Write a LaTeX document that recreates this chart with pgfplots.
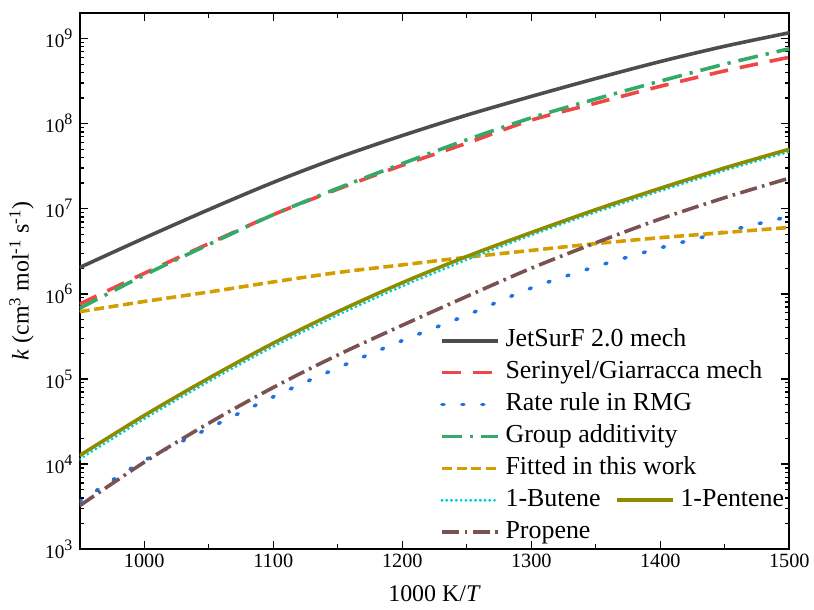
\documentclass[border=0pt]{standalone}
\usepackage{fontspec}
\setmainfont{Liberation Serif}
\usepackage{pgfplots}
\pgfplotsset{compat=1.18}

\definecolor{cjet}{RGB}{77,77,77}
\definecolor{cser}{RGB}{240,70,70}
\definecolor{crmg}{RGB}{30,112,228}
\definecolor{cgrp}{RGB}{52,170,105}
\definecolor{cfit}{RGB}{212,158,0}
\definecolor{cbut}{RGB}{0,205,215}
\definecolor{cpen}{RGB}{140,140,0}
\definecolor{cpro}{RGB}{122,82,82}

\begin{document}
\begin{tikzpicture}
\begin{axis}[
    scale only axis,
    width=534pt, height=403.5pt,
    ymode=log,
    xmin=950, xmax=1500,
    ymin=1e3, ymax=2e9,
    xtick={1000,1100,1200,1300,1400,1500},
    minor x tick num=1,
    ytick={1e3,1e4,1e5,1e6,1e7,1e8,1e9},
    yticklabel={10\raisebox{0.42em}{\fontsize{12}{13}\selectfont\pgfmathparse{int(round(\tick/ln(10)))}\pgfmathresult}},
    /pgf/number format/1000 sep={},
    /pgf/number format/assume math mode=true,
    tick align=inside,
    major tick length=6pt, minor tick length=3.5pt,
    tick style={line width=1pt, black},
    axis line style={line width=1.3pt},
    tick label style={font=\fontsize{15.25}{18}\selectfont},
    yticklabel style={font=\fontsize{14.5}{17}\selectfont, xshift=-2pt},
    label style={font=\fontsize{18}{21}\selectfont},
    xlabel={1000 K/\textit{T}},
    ylabel={\textit{k} (cm\textsuperscript{3} mol\textsuperscript{-1} s\textsuperscript{-1})},
    xlabel style={at={(axis description cs:0.5,-0.084)}, anchor=center},
    ylabel style={at={(axis description cs:-0.082,0.5)}, anchor=center},
    every axis plot/.append style={line width=2.7pt, smooth},
    legend columns=2,
    legend style={
        at={(0.502,0.42)}, anchor=north west,
        draw=none, fill=none,
        font=\fontsize{19.5}{22}\selectfont,
        nodes={inner sep=2pt, text height=13pt, text depth=4pt},
        row sep=3pt,
        /tikz/every odd column/.append style={column sep=2.5pt},
        /tikz/every even column/.append style={column sep=9pt},
    },
    legend cell align=left,
    legend image code/.code={\draw[mark repeat=2,mark phase=2] plot coordinates {(0pt,0pt) (21pt,0pt) (42pt,0pt)};},
]

\addplot[cjet] coordinates {
(950,2.04e6)(1000,4.52e6)(1050,9.77e6)(1100,2.04e7)(1150,3.98e7)(1200,7.24e7)
(1250,1.26e8)(1300,2.09e8)(1350,3.39e8)(1400,5.37e8)(1450,8.13e8)(1500,1.17e9)};
\addlegendentry{\makebox[0pt][l]{JetSurF 2.0 mech}}
\addlegendimage{empty legend}\addlegendentry{}

\addplot[cser, dash pattern=on 14pt off 9pt] coordinates {
(950,7.59e5)(1000,1.74e6)(1050,3.89e6)(1100,8.51e6)(1150,1.70e7)(1200,3.24e7)
(1250,5.89e7)(1300,1.10e8)(1350,1.74e8)(1400,2.75e8)(1450,4.17e8)(1500,6.03e8)};
\addlegendentry{\makebox[0pt][l]{Serinyel/Giarracca mech}}
\addlegendimage{empty legend}\addlegendentry{}

\addplot[crmg, line cap=round, dash pattern=on 1.5pt off 13.5pt] coordinates {
(950,3.63e3)(1000,1.10e4)(1050,2.63e4)(1100,6.17e4)(1150,1.35e5)(1200,2.82e5)
(1250,5.62e5)(1300,1.17e6)(1350,2.09e6)(1400,3.47e6)(1450,5.37e6)(1500,8.13e6)};
\addlegendentry{\makebox[0pt][l]{Rate rule in RMG}}
\addlegendimage{empty legend}\addlegendentry{}

\addplot[cgrp, dash pattern=on 15pt off 6pt on 2.5pt off 6pt] coordinates {
(950,6.76e5)(1000,1.66e6)(1050,3.80e6)(1100,8.51e6)(1150,1.74e7)(1200,3.39e7)
(1250,6.46e7)(1300,1.17e8)(1350,1.95e8)(1400,3.16e8)(1450,5.01e8)(1500,7.59e8)};
\addlegendentry{\makebox[0pt][l]{Group additivity}}
\addlegendimage{empty legend}\addlegendentry{}

\addplot[cfit, dash pattern=on 7.5pt off 3.5pt] coordinates {
(950,6.17e5)(1000,8.13e5)(1050,1.05e6)(1100,1.38e6)(1150,1.78e6)(1200,2.19e6)
(1250,2.69e6)(1300,3.24e6)(1350,3.89e6)(1400,4.57e6)(1450,5.25e6)(1500,6.03e6)};
\addlegendentry{\makebox[0pt][l]{Fitted in this work}}
\addlegendimage{empty legend}\addlegendentry{}

\addplot[cbut, line width=2.4pt, line cap=round, dash pattern=on 0pt off 3.6pt] coordinates {
(950,1.14e4)(1000,3.39e4)(1050,9.33e4)(1100,2.40e5)(1150,5.62e5)(1200,1.23e6)
(1250,2.51e6)(1300,4.90e6)(1350,9.12e6)(1400,1.62e7)(1450,2.82e7)(1500,4.68e7)};
\addlegendentry{1-Butene}

\addplot[cpen] coordinates {
(950,1.26e4)(1000,3.72e4)(1050,1.02e5)(1100,2.63e5)(1150,6.17e5)(1200,1.35e6)
(1250,2.75e6)(1300,5.25e6)(1350,9.77e6)(1400,1.74e7)(1450,3.02e7)(1500,5.01e7)};
\addlegendentry{1-Pentene}

\addplot[cpro, dash pattern=on 13pt off 4pt on 2pt off 4pt] coordinates {
(950,3.24e3)(1000,1.05e4)(1050,3.02e4)(1100,7.94e4)(1150,1.91e5)(1200,4.27e5)
(1250,9.33e5)(1300,2.00e6)(1350,3.98e6)(1400,7.59e6)(1450,1.35e7)(1500,2.29e7)};
\addlegendentry{Propene}

\end{axis}
\path ([xshift=-60pt,yshift=-45.75pt]current axis.south west) rectangle ([xshift=16.5pt,yshift=9.75pt]current axis.north east);
\end{tikzpicture}
\end{document}
